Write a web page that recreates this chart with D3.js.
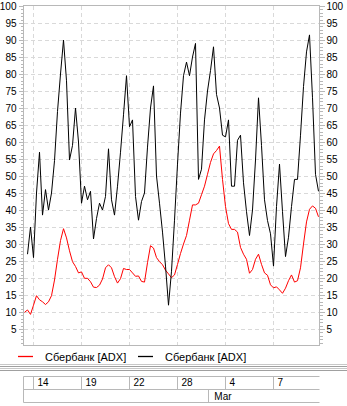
<!DOCTYPE html>
<html><head><meta charset="utf-8">
<script src="https://cdn.jsdelivr.net/npm/d3@7"></script>
<style>
html,body{margin:0;padding:0;background:#fff;}
svg{display:block;font-family:"Liberation Sans",Arial,sans-serif;}
</style></head>
<body><div id="chart"></div>
<script>
// ---- data ----
const seriesNames = ["Сбербанк [ADX]", "Сбербанк [ADX]"];
const redADX = [9.9,10.6,9.3,12,14.8,13.6,13,12.2,13,14.8,
19.4,25.5,31,34.5,31.8,28,24.8,23.4,21.5,21.8,
19.9,19.9,18.9,17.3,17.2,17.9,19.7,23,23.9,23,
20.4,18.5,19.8,22.8,22.5,22.5,21.5,20.5,20.6,19,
18.8,24.5,29.5,28.8,26,24.8,23.9,22.3,21.2,20.1,
20.9,24,27.2,30,32.5,37,41.5,41.5,42,44.5,
47,50.5,54,56.5,57.5,58.8,49,41,36,34.3,
34.3,33.5,29,27,25.5,21.4,22.5,25.5,27,24,
21.5,20.8,18,17.1,17.4,16.5,15.5,17,19.2,20.9,
18.8,19.2,23,30,36.5,40.2,41.2,40.5,38];
const blackADX = [null,27,35,26,45,57,38.5,46,40,45,
54.5,69,80,90,78,54.7,59,70,60,42,
47,43,45.5,31.5,37.5,42,40,44,58,43,
38.5,47,57,68,79.5,64.5,66.5,44,37,42.5,
45,58.5,70,76.5,50,42,33.5,23.5,12,22,
37,53.5,68.5,79.5,83.5,79.5,85,89,49,52,
66.5,75,81,88,74,70,62,61.5,66.5,47,
47,60.5,62,48,39.5,32.5,40,54.7,73,59,
43,36.9,33,23.5,41,53.5,39.5,26.3,32,41,
49,49,62,76.3,86.5,91.5,73,50.5,45.5];
const dayLabels = ["14","19","22","28","4","7"];
const dayBars = [3,19,35,51,67,83];
const monthLabels = ["Mar"];
const monthBars = [61.6];
const yTicks = d3.range(5,101,5);

// ---- layout ----
const W=347,H=406;
const L=23.5,R=319.5,T=5.5,B=345.5;
const svg=d3.select("#chart").append("svg").attr("width",W).attr("height",H);
svg.append("rect").attr("width",W).attr("height",H).attr("fill","#fff");

const x=d3.scaleLinear().domain([0,redADX.length-1]).range([24.5,318.5]);
const y=d3.scaleLinear().domain([0,100]).range([346,6]);

const gridCol="#d9d9d9", axisCol="#b8b8b8";
// horizontal grid
svg.append("g").selectAll("line").data(yTicks.filter(v=>v<100)).join("line")
 .attr("x1",L).attr("x2",R).attr("y1",d=>Math.round(y(d))+0.5).attr("y2",d=>Math.round(y(d))+0.5)
 .attr("stroke",gridCol).attr("stroke-dasharray","4,3").attr("shape-rendering","crispEdges");
// vertical grid
svg.append("g").selectAll("line").data(dayBars).join("line")
 .attr("x1",d=>Math.round(x(d))-0.5).attr("x2",d=>Math.round(x(d))-0.5).attr("y1",T).attr("y2",B)
 .attr("stroke",gridCol).attr("stroke-dasharray","4,3").attr("shape-rendering","crispEdges");

// frame
svg.append("rect").attr("x",L).attr("y",T).attr("width",R-L).attr("height",B-T)
 .attr("fill","none").attr("stroke",axisCol).attr("shape-rendering","crispEdges");

// axes
const minor=d3.range(1,101);
const axL=d3.axisLeft(y).tickValues(minor).tickSize(3).tickFormat("");
const axR=d3.axisRight(y).tickValues(minor).tickSize(3).tickFormat("");
const gl=svg.append("g").attr("transform",`translate(${L},0)`).call(axL);
const gr=svg.append("g").attr("transform",`translate(${R},0)`).call(axR);
[gl,gr].forEach(g=>{g.select(".domain").remove();g.selectAll("line").attr("stroke",axisCol).attr("shape-rendering","crispEdges");});
const majL=d3.axisLeft(y).tickValues(yTicks).tickSize(5).tickPadding(2);
const majR=d3.axisRight(y).tickValues(yTicks).tickSize(5).tickPadding(2);
const gml=svg.append("g").attr("transform",`translate(${L},0)`).call(majL);
const gmr=svg.append("g").attr("transform",`translate(${R},0)`).call(majR);
[gml,gmr].forEach(g=>{g.select(".domain").remove();
 g.selectAll("line").attr("stroke",axisCol).attr("shape-rendering","crispEdges");
 g.selectAll("text").attr("fill","#000").style("font-size","10px").style("font-family","'Liberation Sans',Arial,sans-serif");});

// lines
const lineB=d3.line().defined(d=>d[1]!=null).x(d=>x(d[0])).y(d=>y(d[1]));
svg.append("path").datum(redADX.map((v,i)=>[i,v])).attr("d",lineB).attr("fill","none").attr("stroke","#ff0000").attr("stroke-width",1);
svg.append("path").datum(blackADX.map((v,i)=>[i,v])).attr("d",lineB).attr("fill","none").attr("stroke","#000").attr("stroke-width",1);

// legend
const leg=[{c:"#ff0000",x:18},{c:"#000",x:138}];
leg.forEach((l,k)=>{
 svg.append("line").attr("x1",l.x).attr("x2",l.x+15).attr("y1",356.5).attr("y2",356.5).attr("stroke",l.c).attr("stroke-width",1.3);
 svg.append("text").attr("x",l.x+27).attr("y",360.5).text(seriesNames[k]).style("font-size","11px").attr("fill","#000");
});

// separator
[364.5,366.5,368.5,370.5].forEach((yy,k)=>{
 svg.append("line").attr("x1",0).attr("x2",W).attr("y1",yy).attr("y2",yy).attr("stroke",k%2?"#a0a0a0":"#c8c8c8");
});

// date panel
const dp=svg.append("g");
const pT=376.5,pM=389.5,pB=402.5;
dp.append("line").attr("x1",23.5).attr("x2",R).attr("y1",pT).attr("y2",pT).attr("stroke",axisCol);
dp.append("line").attr("x1",23.5).attr("x2",R).attr("y1",pM).attr("y2",pM).attr("stroke",axisCol);
dp.append("line").attr("x1",23.5).attr("x2",R).attr("y1",pB).attr("y2",pB).attr("stroke",axisCol);
dp.append("line").attr("x1",23.5).attr("x2",23.5).attr("y1",pT).attr("y2",pB).attr("stroke",axisCol);
dp.selectAll("line.d").data(dayBars).join("line").attr("class","d")
 .attr("x1",d=>Math.round(x(d))-0.5).attr("x2",d=>Math.round(x(d))-0.5).attr("y1",pT).attr("y2",pM).attr("stroke",axisCol);
dp.selectAll("text.d").data(dayLabels).join("text").attr("class","d")
 .attr("x",(d,i)=>x(dayBars[i])+4).attr("y",386).text(d=>d).style("font-size","10px");
dp.selectAll("line.m").data(monthBars).join("line").attr("class","m")
 .attr("x1",d=>Math.round(x(d))-0.5).attr("x2",d=>Math.round(x(d))-0.5).attr("y1",pM).attr("y2",pB).attr("stroke",axisCol);
dp.selectAll("text.m").data(monthLabels).join("text").attr("class","m")
 .attr("x",(d,i)=>x(monthBars[i])+5).attr("y",399.5).text(d=>d).style("font-size","10px");
</script></body></html>
